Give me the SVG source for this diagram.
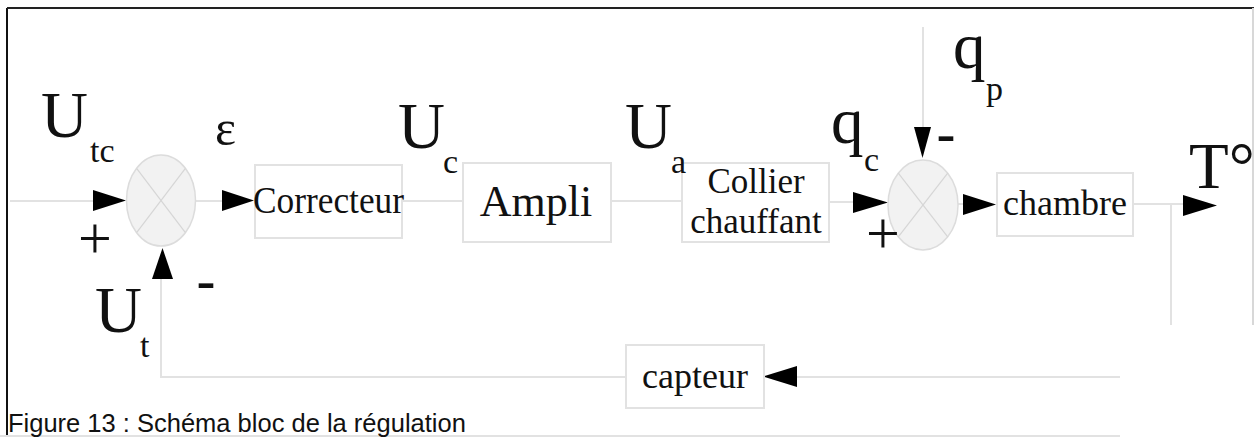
<svg xmlns="http://www.w3.org/2000/svg" width="1257" height="437" viewBox="0 0 1257 437">
<style>
.ln{stroke:#e2e2e2;stroke-width:2;fill:none}
.box{fill:#fff;stroke:#e2e2e2;stroke-width:2}
.sum{fill:#f2f2f2;stroke:#dcdcdc;stroke-width:1.5}
.x{stroke:#d6d6d6;stroke-width:1.2}
.arr{fill:#000}
.bt{fill:#111}
.sym{font-size:65px;fill:#111}
.sub{font-size:34px;fill:#111}
.sgn{font-family:Liberation Sans,Arial,sans-serif;font-size:60px;fill:#111}
.pl{font-size:60px;fill:#111}
</style>
<rect width="1257" height="437" fill="#fff"/>
<g id="frame">
<line x1="7" y1="8" x2="7" y2="437" stroke="#111" stroke-width="2"/>
<line x1="7" y1="8" x2="1254" y2="8" stroke="#222" stroke-width="2"/>
<line x1="1253" y1="8" x2="1253" y2="325" stroke="#d8d8d8" stroke-width="2"/>
<line x1="0" y1="436" x2="1120" y2="436" class="ln"/>
</g>
<g id="connectors">
<line class="ln" x1="10" y1="201" x2="95" y2="201"/>
<line class="ln" x1="196" y1="201" x2="224" y2="201"/>
<line class="ln" x1="402" y1="201" x2="463" y2="201"/>
<line class="ln" x1="611" y1="201" x2="682" y2="201"/>
<line class="ln" x1="829" y1="202" x2="855" y2="202"/>
<line class="ln" x1="958" y1="204" x2="965" y2="204"/>
<line class="ln" x1="923" y1="27" x2="923" y2="129"/>
<line class="ln" x1="1133" y1="204" x2="1185" y2="204"/>
<line class="ln" x1="1171" y1="204" x2="1171" y2="325"/>
<line class="ln" x1="795" y1="377" x2="1120" y2="377"/>
<polyline class="ln" points="626,377 161,377 161,277"/>
<polygon class="arr" points="93,190 126,200.5 93,211"/>
<polygon class="arr" points="222,190 254,200.5 222,211"/>
<polygon class="arr" points="853,192 888,202.5 853,213"/>
<polygon class="arr" points="963,194 996,204.5 963,215"/>
<polygon class="arr" points="1183,195 1217,205.5 1183,216"/>
<polygon class="arr" points="914,127 931,127 922.5,158"/>
<polygon class="arr" points="152,279 173,279 162.5,248"/>
<polygon class="arr" points="797,366 797,387 763,376.5"/>
</g>
<g id="sum1">
<ellipse class="sum" cx="161" cy="200.5" rx="34.5" ry="45.5"/>
<line class="x" x1="136.6" y1="168.3" x2="185.4" y2="232.7"/>
<line class="x" x1="185.4" y1="168.3" x2="136.6" y2="232.7"/>
</g>
<g font-family="Liberation Serif, Times New Roman, DejaVu Serif, serif">
<g id="correcteur">
<rect class="box" x="255" y="165" width="147" height="73"/>
<text class="bt" x="253" y="213" font-size="38" textLength="151" lengthAdjust="spacingAndGlyphs">Correcteur</text>
</g>
<g id="ampli">
<rect class="box" x="463" y="163" width="148" height="79"/>
<text class="bt" x="536" y="216" font-size="44" text-anchor="middle">Ampli</text>
</g>
<g id="collier">
<rect class="box" x="682" y="163" width="147" height="79"/>
<text class="bt" x="756" y="193" font-size="35" text-anchor="middle">Collier</text>
<text class="bt" x="756" y="233" font-size="35" text-anchor="middle">chauffant</text>
</g>
<g id="sum2">
<ellipse class="sum" cx="923" cy="205" rx="35" ry="45"/>
<line class="x" x1="898.3" y1="173.2" x2="947.7" y2="236.8"/>
<line class="x" x1="947.7" y1="173.2" x2="898.3" y2="236.8"/>
</g>
<g id="chambre">
<rect class="box" x="997" y="173" width="136" height="63"/>
<text class="bt" x="1065" y="215" font-size="36" text-anchor="middle">chambre</text>
</g>
<g id="capteur">
<rect class="box" x="626" y="345" width="138" height="63"/>
<text class="bt" x="695" y="388" font-size="36" text-anchor="middle">capteur</text>
</g>
<g id="labels">
<text class="sym" x="41" y="137">U</text><text class="sub" x="90" y="162">tc</text>
<text class="bt" x="215" y="145" font-size="50">ε</text>
<text class="sym" x="398" y="148">U</text><text class="sub" x="443" y="173">c</text>
<text class="sym" x="625" y="148">U</text><text class="sub" x="671" y="173">a</text>
<text class="sym" x="831" y="143" font-size="54">q</text><text class="sub" x="864" y="171" font-size="36">c</text>
<text class="sym" x="953" y="68" font-size="54">q</text><text class="sub" x="986" y="100" font-size="36">p</text>
<text class="sym" x="1189" y="188" font-size="62">T°</text>
<text class="sym" x="95" y="332">U</text><text class="sub" x="140" y="357">t</text>
<text class="pl" x="95" y="258" text-anchor="middle">+</text>
<text class="pl" x="883" y="253" text-anchor="middle">+</text>
</g>
</g>
<g id="signs">
<text class="sgn" x="196" y="301">-</text>
<text class="sgn" x="936" y="154">-</text>
<text x="8" y="432" font-family="Liberation Sans, Arial, sans-serif" font-size="25.5" fill="#111">Figure 13 : Schéma bloc de la régulation</text>
</g>
</svg>
